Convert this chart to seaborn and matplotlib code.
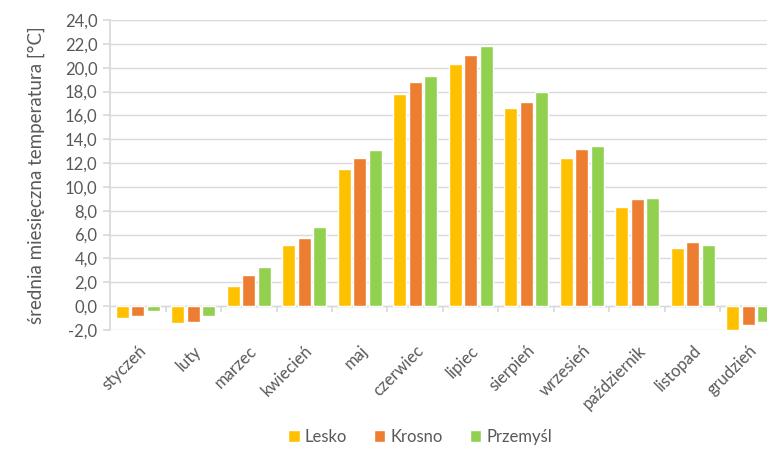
import matplotlib
matplotlib.use("Agg")
import matplotlib.pyplot as plt
import seaborn as sns
import pandas as pd
import numpy as np
from matplotlib.ticker import FixedLocator

months = ["styczeń", "luty", "marzec", "kwiecień", "maj", "czerwiec", "lipiec",
          "sierpień", "wrzesień", "październik", "listopad", "grudzień"]
lesko = [-1.0, -1.4, 1.7, 5.1, 11.5, 17.8, 20.3, 16.6, 12.4, 8.3, 4.9, -2.0]
krosno = [-0.8, -1.3, 2.6, 5.7, 12.4, 18.8, 21.1, 17.1, 13.2, 9.0, 5.4, -1.6]
przemysl = [-0.4, -0.8, 3.3, 6.6, 13.1, 19.3, 21.8, 18.0, 13.4, 9.1, 5.1, -1.3]
series = ["Lesko", "Krosno", "Przemyśl"]
colors = ["#FFC000", "#ED7D31", "#92D050"]
yticks = [-2, 0, 2, 4, 6, 8, 10, 12, 14, 16, 18, 20, 22, 24]
ytick_labels = ["-2,0", "0,0", "2,0", "4,0", "6,0", "8,0", "10,0", "12,0",
                "14,0", "16,0", "18,0", "20,0", "22,0", "24,0"]

df = pd.DataFrame({
    "month": months * 3,
    "series": ["Lesko"] * 12 + ["Krosno"] * 12 + ["Przemyśl"] * 12,
    "value": lesko + krosno + przemysl,
})

sns.set_theme(style="white")
plt.rcParams["font.family"] = ["Lato", "DejaVu Sans"]
plt.rcParams["axes.unicode_minus"] = False
text_color = "#595959"
fs = 12

fig = plt.figure(figsize=(7.67, 4.51), dpi=100)
ax = fig.add_axes([110 / 767, (451 - 330) / 451, 666 / 767, 310 / 451])

sns.barplot(data=df, x="month", y="value", hue="series", order=months,
            hue_order=series, palette=colors, width=0.84, gap=0.16,
            saturation=1, ax=ax, legend=True)

ax.set_ylim(-2, 24)
ax.set_xlim(-0.5, 11.5)
ax.set_yticks(yticks)
ax.set_yticklabels(ytick_labels)
ax.grid(axis="y", color="#D9D9D9", linewidth=1)
ax.set_axisbelow(True)
for s in ["top", "right", "bottom"]:
    ax.spines[s].set_visible(False)
ax.spines["left"].set_color("#D9D9D9")
ax.tick_params(axis="y", left=True, length=5, color="#D9D9D9", labelsize=fs,
               labelcolor=text_color, pad=4)
ax.tick_params(axis="x", bottom=False, labelsize=fs, labelcolor=text_color, pad=3)
plt.setp(ax.get_xticklabels(), rotation=45, ha="right", rotation_mode="anchor")
ax.set_xlabel("")
ax.set_ylabel("średnia miesięczna temperatura [°C]", fontsize=13.5,
              color=text_color, labelpad=14)

ax.axhline(0, color="#D9D9D9", linewidth=1, zorder=0.5)
sec = ax.secondary_xaxis(0, transform=ax.transData)
sec.xaxis.set_major_locator(FixedLocator(np.arange(-0.5, 12, 1)))
sec.tick_params(axis="x", length=4, color="#D9D9D9", labelbottom=False, direction="out")
sec.spines["bottom"].set_visible(False)

leg = ax.legend(loc="lower center", bbox_to_anchor=(420 / 767, -0.02),
                bbox_transform=fig.transFigure, ncol=3, frameon=False,
                fontsize=fs, handlelength=0.7, handleheight=0.7,
                handletextpad=0.3, columnspacing=1.6, labelcolor=text_color)

fig.savefig("out.png", dpi=100)
